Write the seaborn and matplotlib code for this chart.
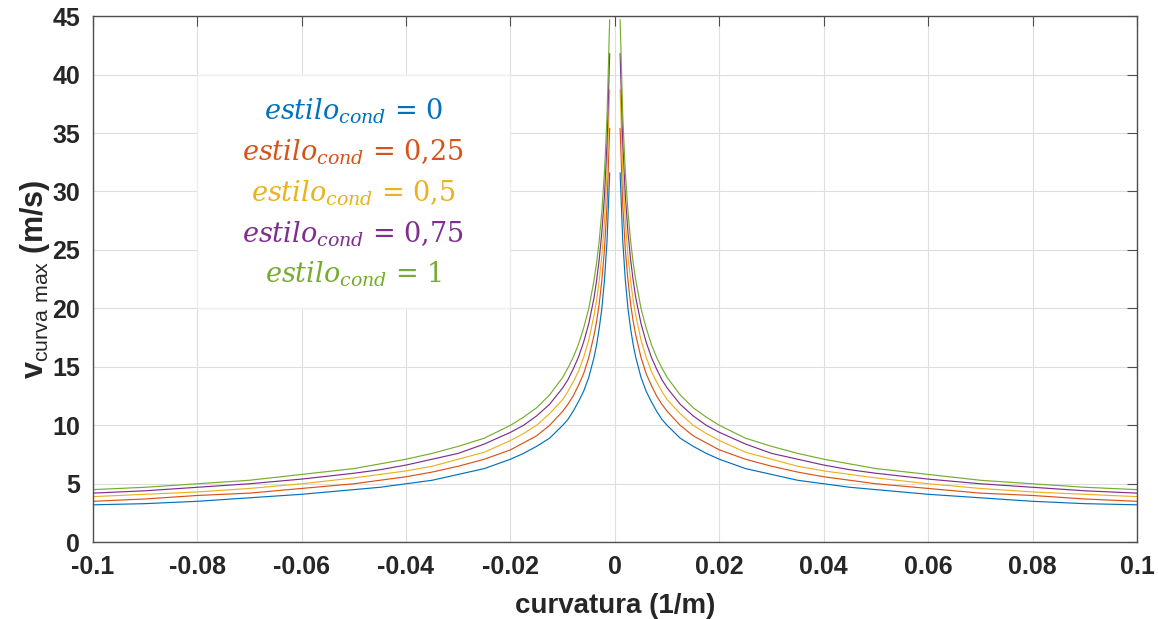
import numpy as np
import pandas as pd
import seaborn as sns
import matplotlib.pyplot as plt
from matplotlib.patches import Rectangle

# curvature (1/m), positive side; the negative side is its mirror image
curv = [0.001, 0.0015, 0.002, 0.0025, 0.003, 0.0035, 0.004, 0.005, 0.006, 0.007,
        0.008, 0.009, 0.01, 0.0125, 0.015, 0.0175, 0.02, 0.025, 0.03, 0.035,
        0.04, 0.045, 0.05, 0.06, 0.07, 0.08, 0.09, 0.1]

estilo = ['0', '0,25', '0,5', '0,75', '1']

# v curva max (m/s), one list per estilo_cond
v_0   = [31.6, 25.8, 22.4, 20.0, 18.3, 16.9, 15.8, 14.1, 12.9, 12.0, 11.2, 10.5, 10.0, 8.9,
         8.2, 7.6, 7.1, 6.3, 5.8, 5.3, 5.0, 4.7, 4.5, 4.1, 3.8, 3.5, 3.3, 3.2]
v_025 = [35.4, 28.9, 25.0, 22.4, 20.4, 18.9, 17.7, 15.8, 14.4, 13.4, 12.5, 11.8, 11.2, 10.0,
         9.1, 8.5, 7.9, 7.1, 6.5, 6.0, 5.6, 5.3, 5.0, 4.6, 4.2, 4.0, 3.7, 3.5]
v_05  = [38.7, 31.6, 27.4, 24.5, 22.4, 20.7, 19.4, 17.3, 15.8, 14.6, 13.7, 12.9, 12.2, 11.0,
         10.0, 9.3, 8.7, 7.7, 7.1, 6.5, 6.1, 5.8, 5.5, 5.0, 4.6, 4.3, 4.1, 3.9]
v_075 = [41.8, 34.2, 29.6, 26.5, 24.2, 22.4, 20.9, 18.7, 17.1, 15.8, 14.8, 13.9, 13.2, 11.8,
         10.8, 10.0, 9.4, 8.4, 7.6, 7.1, 6.6, 6.2, 5.9, 5.4, 5.0, 4.7, 4.4, 4.2]
v_1   = [44.7, 36.5, 31.6, 28.3, 25.8, 23.9, 22.4, 20.0, 18.3, 16.9, 15.8, 14.9, 14.1, 12.6,
         11.5, 10.7, 10.0, 8.9, 8.2, 7.6, 7.1, 6.7, 6.3, 5.8, 5.3, 5.0, 4.7, 4.5]

colors = ['#0072BD', '#D95319', '#EDB120', '#7E2F8E', '#77AC30']

rows = []
for est, vals in zip(estilo, [v_0, v_025, v_05, v_075, v_1]):
    for k, v in zip(curv, vals):
        rows.append({'k': k, 'v': v, 'estilo': est, 'side': 'pos'})
        rows.append({'k': -k, 'v': v, 'estilo': est, 'side': 'neg'})
df = pd.DataFrame(rows).sort_values(['estilo', 'side', 'k'])

sns.set_style('whitegrid')
plt.rcParams['font.family'] = ['Liberation Sans', 'DejaVu Sans']
plt.rcParams['mathtext.fontset'] = 'custom'
plt.rcParams['mathtext.rm'] = 'Liberation Sans'
plt.rcParams['mathtext.it'] = 'DejaVu Serif:italic'
plt.rcParams['mathtext.bf'] = 'Liberation Sans:bold'

fig, ax = plt.subplots(figsize=(11.58, 6.19), dpi=100)
fig.subplots_adjust(left=0.080, right=0.982, top=0.974, bottom=0.124)

sns.lineplot(data=df, x='k', y='v', hue='estilo', units='side', estimator=None,
             palette=colors, hue_order=estilo, linewidth=0.85, ax=ax, sort=False)

ax.set_xlim(-0.1, 0.1)
ax.set_ylim(0, 45)
xt = np.round(np.arange(-0.1, 0.1001, 0.02), 2)
ax.set_xticks(xt)
ax.set_xticklabels(['0' if t == 0 else ('%g' % t) for t in xt])
ax.set_yticks(range(0, 46, 5))

ax.grid(True, color='#dedede', linewidth=0.8)
for s in ax.spines.values():
    s.set_visible(True)
    s.set_color('#4d4d4d')
    s.set_linewidth(1.0)
ax.tick_params(direction='in', top=True, right=True, length=7, width=0.8,
               color='#4d4d4d', labelsize=18, labelcolor='#262626')
ax.tick_params(axis='x', pad=9)
ax.tick_params(axis='y', pad=9)
for lab in ax.get_xticklabels() + ax.get_yticklabels():
    lab.set_fontweight('bold')

ax.set_xlabel('curvatura (1/m)', fontsize=20, fontweight='bold', color='#262626', labelpad=10)
ax.set_ylabel(r'v$_{\mathrm{curva\ max}}$ (m/s)', fontsize=22, fontweight='bold',
              color='#262626', labelpad=0)

# legend box (white, faint edge) like the MATLAB one
ax.add_patch(Rectangle((0.0996, 0.445), 0.2998, 0.443, transform=ax.transAxes,
                       facecolor='white', edgecolor='#eeeeee', linewidth=1, zorder=4))
handles, _ = ax.get_legend_handles_labels()
labels = [r'$estilo_{cond}$ = ' + e for e in estilo]
leg = ax.legend(handles, labels, loc='center', bbox_to_anchor=(0.2495, 0.664),
                handlelength=0, handletextpad=0, labelcolor=colors, frameon=False,
                labelspacing=0.42, borderaxespad=0,
                prop={'family': 'DejaVu Serif', 'size': 19.5})
for col in leg._legend_handle_box.get_children():
    col.align = 'center'
for h in leg.legend_handles:
    h.set_visible(False)

fig.savefig('out.png', dpi=100)
